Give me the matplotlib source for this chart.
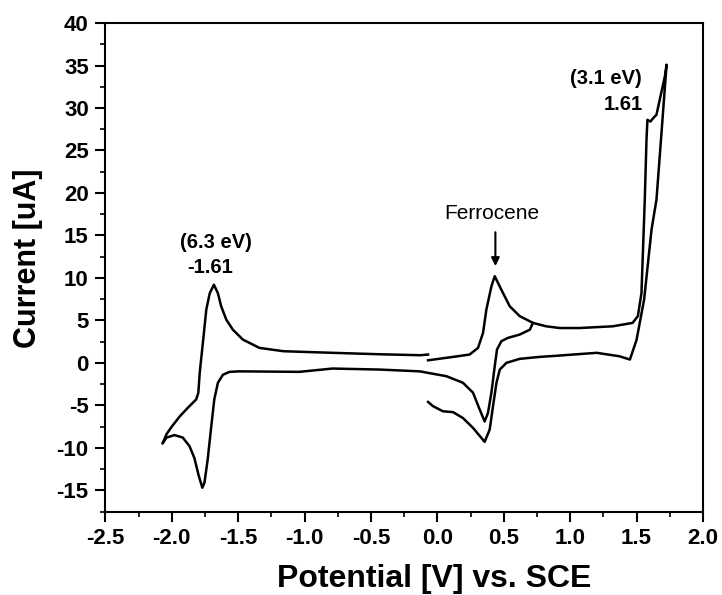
import matplotlib
matplotlib.use("Agg")
import matplotlib.pyplot as plt
from matplotlib.ticker import MultipleLocator

plt.rcParams['font.family'] = ['Liberation Sans', 'DejaVu Sans']

# scan A: left redox couple, then back through the inner ferrocene loop
scan_a_v = [-0.07, -0.13, -0.41, -0.79, -1.16, -1.34, -1.465, -1.54, -1.59, -1.628,
            -1.653, -1.683, -1.714, -1.74, -1.766, -1.79, -1.80, -1.816, -1.88, -1.94,
            -2.00, -2.04, -2.07, -2.04, -1.98, -1.917, -1.867, -1.83, -1.797, -1.77,
            -1.754, -1.73, -1.703, -1.68, -1.653, -1.615, -1.565, -1.49, -1.04, -0.79,
            -0.435, -0.133, 0.068, 0.193, 0.268, 0.319, 0.356, 0.381, 0.407, 0.432,
            0.449, 0.482, 0.532, 0.62, 0.696, 0.72]
scan_a_i = [0.98, 0.9, 1.0, 1.18, 1.37, 1.76, 2.74, 3.9, 5.1, 6.65,
            8.2, 9.2, 8.2, 6.3, 2.35, -1.2, -3.5, -4.3, -5.3, -6.3,
            -7.5, -8.4, -9.5, -8.8, -8.5, -8.8, -9.8, -11.2, -13.3, -14.7,
            -14.1, -11.4, -7.5, -4.3, -2.35, -1.4, -1.06, -1.0, -1.06, -0.67,
            -0.79, -1.0, -1.57, -2.35, -3.5, -5.5, -6.9, -5.9, -3.5, -0.4,
            1.56, 2.55, 2.94, 3.33, 3.9, 4.7]

# scan B: ferrocene wave, anodic limit, back to the ferrocene peak
scan_b_v = [-0.07, -0.033, 0.042, 0.118, 0.193, 0.268, 0.319, 0.356, 0.394, 0.419,
            0.445, 0.47, 0.52, 0.62, 0.77, 0.92, 1.2, 1.37, 1.45, 1.50,
            1.557, 1.613, 1.65, 1.688, 1.726, 1.713, 1.675, 1.65, 1.625, 1.605,
            1.582, 1.575, 1.562, 1.537, 1.51, 1.47, 1.32, 1.07, 0.92, 0.82,
            0.72, 0.62, 0.545, 0.482, 0.432, 0.407, 0.369, 0.344, 0.306, 0.243,
            0.118, -0.07]
scan_b_i = [-4.6, -5.1, -5.7, -5.8, -6.5, -7.65, -8.6, -9.3, -7.85, -5.1,
            -2.35, -0.79, 0.0, 0.47, 0.7, 0.86, 1.18, 0.78, 0.39, 2.7,
            7.45, 15.7, 19.2, 27.1, 35.1, 33.7, 31.0, 29.2, 28.8, 28.4,
            28.6, 26.3, 19.2, 8.2, 5.5, 4.7, 4.3, 4.1, 4.1, 4.3,
            4.7, 5.5, 6.66, 8.6, 10.2, 9.0, 6.27, 3.53, 1.76, 0.98,
            0.7, 0.3]

fig = plt.figure(figsize=(7.22, 5.95), dpi=100)
ax = fig.add_axes([0.146, 0.1403, 0.8276, 0.821])

ax.plot(scan_a_v, scan_a_i, color='black', lw=1.8, solid_joinstyle='round')
ax.plot(scan_b_v, scan_b_i, color='black', lw=1.8, solid_joinstyle='round')

ax.set_xlim(-2.5, 2.0)
ax.set_ylim(-17.5, 40)
ax.xaxis.set_major_locator(MultipleLocator(0.5))
ax.xaxis.set_minor_locator(MultipleLocator(0.25))
ax.yaxis.set_major_locator(MultipleLocator(5))
ax.yaxis.set_minor_locator(MultipleLocator(2.5))
ax.xaxis.set_major_formatter(plt.FuncFormatter(lambda v, p: f'{v:.1f}'))
ax.yaxis.set_major_formatter(plt.FuncFormatter(lambda v, p: f'{v:.0f}'))

ax.tick_params(which='major', direction='out', length=7, width=1.5, labelsize=16, pad=5)
ax.tick_params(which='minor', direction='out', length=3.5, width=1.2)
for lab in ax.get_xticklabels() + ax.get_yticklabels():
    lab.set_fontweight('bold')
for sp in ax.spines.values():
    sp.set_linewidth(1.5)

ax.set_xlabel('Potential [V] vs. SCE', fontsize=23, fontweight='bold')
ax.xaxis.set_label_coords(0.551, -0.108)
ax.set_ylabel('Current [uA]', fontsize=22, fontweight='bold')
ax.yaxis.set_label_coords(-0.105, 0.519)

ax.text(-1.665, 14.15, '(6.3 eV)', ha='center', va='center', fontsize=14.5, fontweight='bold')
ax.text(-1.708, 11.2, '-1.61', ha='center', va='center', fontsize=14.5, fontweight='bold')
ax.text(1.54, 33.45, '(3.1 eV)', ha='right', va='center', fontsize=14.5, fontweight='bold')
ax.text(1.547, 30.4, '1.61', ha='right', va='center', fontsize=14.5, fontweight='bold')
ax.text(0.41, 17.56, 'Ferrocene', ha='center', va='center', fontsize=15)
ax.annotate('', xy=(0.437, 11.06), xytext=(0.437, 15.7),
            arrowprops=dict(arrowstyle='-|>', color='black', lw=1.5, mutation_scale=12))

fig.savefig('out.png', dpi=100)
